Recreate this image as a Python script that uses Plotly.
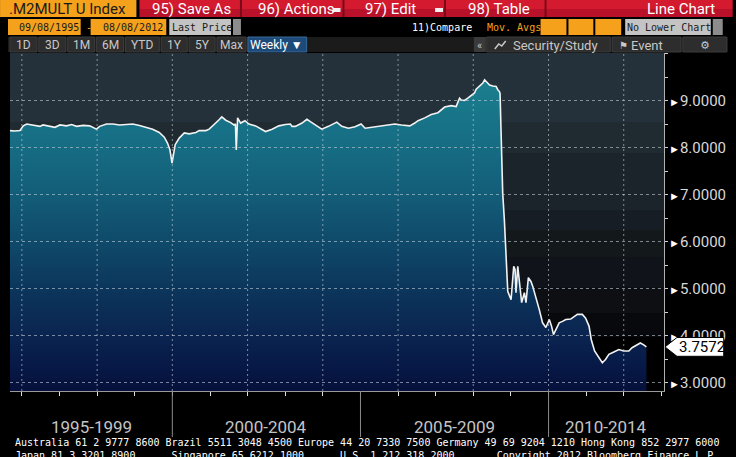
import plotly.graph_objects as go
import pandas as pd

# ---------------- data ----------------
security = ".M2MULT U Index"
start_label = "09/08/1995"
end_label = "08/08/2012"
last_price = 3.7572

dates = [
    "1995-09-08", "1995-10-20", "1995-12-14", "1996-01-15", "1996-02-17", "1996-04-17",
    "1996-06-25", "1996-07-24", "1996-09-30", "1996-11-17", "1997-01-05", "1997-03-10",
    "1997-04-28", "1997-06-15", "1997-08-18", "1997-10-21", "1997-12-25", "1998-01-26",
    "1998-04-01", "1998-06-04", "1998-08-07", "1998-10-11", "1998-12-13", "1999-02-16",
    "1999-04-21", "1999-06-24", "1999-08-27", "1999-10-15", "1999-11-16", "1999-12-09",
    "1999-12-29", "2000-01-10", "2000-01-29", "2000-03-08", "2000-04-26", "2000-06-13",
    "2000-08-17", "2000-09-18", "2000-11-22", "2000-12-24", "2001-02-10", "2001-03-30",
    "2001-04-25", "2001-06-03", "2001-07-21", "2001-08-22", "2001-09-05", "2001-09-13",
    "2001-09-26", "2001-10-25", "2001-12-06", "2002-01-14", "2002-03-20", "2002-05-22",
    "2002-06-24", "2002-08-27", "2002-10-31", "2003-01-03", "2003-02-21", "2003-03-08",
    "2003-04-10", "2003-06-13", "2003-07-31", "2003-09-02", "2003-10-20", "2003-12-22",
    "2004-02-25", "2004-05-16", "2004-07-03", "2004-09-06", "2004-11-09", "2005-01-07",
    "2005-02-15", "2005-05-22", "2005-08-26", "2005-12-01", "2006-02-03", "2006-04-25",
    "2006-06-12", "2006-07-14", "2006-09-17", "2006-11-19", "2007-01-23", "2007-03-29",
    "2007-06-01", "2007-07-19", "2007-08-04", "2007-08-21", "2007-09-06", "2007-10-08",
    "2007-11-09", "2007-12-10", "2008-01-13", "2008-01-29", "2008-03-02", "2008-04-03",
    "2008-04-20", "2008-05-15", "2008-06-07", "2008-07-09", "2008-08-10", "2008-08-26",
    "2008-09-11", "2008-09-17", "2008-10-03", "2008-10-13", "2008-10-29", "2008-11-14",
    "2008-12-01", "2009-01-02", "2009-01-28", "2009-02-10", "2009-02-19", "2009-03-08",
    "2009-03-24", "2009-04-15", "2009-05-11", "2009-05-27", "2009-06-19", "2009-07-14",
    "2009-07-31", "2009-08-31", "2009-10-03", "2009-11-04", "2009-12-06", "2010-01-08",
    "2010-01-30", "2010-02-18", "2010-03-12", "2010-04-14", "2010-05-16", "2010-06-17",
    "2010-08-04", "2010-09-06", "2010-10-08", "2010-11-25", "2010-12-27", "2011-01-29",
    "2011-02-20", "2011-03-24", "2011-04-26", "2011-06-07", "2011-07-08", "2011-08-10",
    "2011-09-27", "2011-11-14", "2012-01-01", "2012-02-19", "2012-03-22", "2012-05-09",
    "2012-06-10", "2012-07-13", "2012-08-08",
]
values = [
    8.36, 8.35, 8.36, 8.46, 8.50, 8.48,
    8.45, 8.48, 8.46, 8.43, 8.48, 8.46,
    8.49, 8.45, 8.47, 8.46, 8.39, 8.45,
    8.50, 8.50, 8.48, 8.49, 8.50, 8.47,
    8.43, 8.39, 8.32, 8.22, 8.09, 7.95,
    7.67, 7.81, 8.06, 8.20, 8.31, 8.29,
    8.32, 8.36, 8.36, 8.39, 8.48, 8.59,
    8.65, 8.58, 8.53, 8.48, 8.50, 7.95,
    8.63, 8.52, 8.57, 8.50, 8.46, 8.38,
    8.34, 8.39, 8.46, 8.49, 8.50, 8.45,
    8.45, 8.52, 8.60, 8.55, 8.48, 8.39,
    8.45, 8.54, 8.45, 8.41, 8.44, 8.50,
    8.41, 8.44, 8.48, 8.50, 8.48, 8.46,
    8.52, 8.57, 8.63, 8.70, 8.74, 8.86,
    8.89, 8.87, 8.96, 9.05, 9.01, 9.00,
    9.05, 9.10, 9.16, 9.24, 9.31, 9.37,
    9.44, 9.37, 9.33, 9.31, 9.30, 9.23,
    9.19, 9.15, 7.74, 7.03, 6.46, 5.54,
    4.94, 4.76, 5.47, 5.40, 4.91, 5.47,
    5.19, 4.70, 4.91, 4.70, 5.23, 5.15,
    5.05, 4.83, 4.55, 4.27, 4.17, 4.34,
    4.20, 4.02, 4.13, 4.27, 4.30, 4.34,
    4.35, 4.41, 4.45, 4.45, 4.37, 4.20,
    3.91, 3.67, 3.56, 3.42, 3.49, 3.60,
    3.65, 3.70, 3.67, 3.67, 3.74, 3.81,
    3.84, 3.80, 3.7572,
]

y_ticks = [3, 4, 5, 6, 7, 8, 9]
grid_years = ["1996-01-01", "1998-01-01", "2000-01-01", "2002-01-01",
              "2004-01-01", "2006-01-01", "2008-01-01", "2010-01-01", "2012-01-01"]
period_labels = ["1995-1999", "2000-2004", "2005-2009", "2010-2014"]
period_bounds = ["1995-09-08", "2000-01-01", "2005-01-01", "2010-01-01", "2013-01-26"]

footer_line1 = ("Australia 61 2 9777 8600 Brazil 5511 3048 4500 Europe 44 20 7330 7500 "
                "Germany 49 69 9204 1210 Hong Kong 852 2977 6000")
footer_line2 = ("Japan 81 3 3201 8900      Singapore 65 6212 1000      "
                "U.S. 1 212 318 2000       Copyright 2012 Bloomberg Finance L.P.")

# ---------------- layout helpers ----------------
W, H = 736, 457
L, R, T, B = 10, 667, 53, 391
X_RANGE = [period_bounds[0], period_bounds[-1]]
Y_RANGE = [2.8191, 10.0106]


def PX(p):
    return (p - L) / (R - L)


def PY(p):
    return (B - p) / (B - T)


def x_frac(d):
    t0, t1 = pd.Timestamp(X_RANGE[0]), pd.Timestamp(X_RANGE[1])
    return (pd.Timestamp(d) - t0) / (t1 - t0)


def y_frac(v):
    return (v - Y_RANGE[0]) / (Y_RANGE[1] - Y_RANGE[0])


SANS = "Roboto, Liberation Sans, sans-serif"
MONO = "DejaVu Sans Mono, Liberation Mono, monospace"
ORANGE = "#f5a11c"

shapes = []
annotations = []


def rect(x0, y0, x1, y1, color, layer="above", line=None):
    shapes.append(dict(type="rect", xref="paper", yref="paper",
                       x0=PX(x0), x1=PX(x1), y0=PY(y1), y1=PY(y0),
                       fillcolor=color, line=line or dict(width=0), layer=layer))


def text(x, y, s, size=12, color="#ffffff", anchor="left", font=SANS):
    annotations.append(dict(xref="paper", yref="paper", x=PX(x), y=PY(y),
                            text=s, showarrow=False, xanchor=anchor, yanchor="middle",
                            font=dict(family=font, size=size, color=color), borderpad=0))


# ---------------- plot background bands ----------------
bands = [(53, 122, "#24313a"), (122, 153, "#1f2a31"), (153, 210, "#1b232b"),
         (210, 230, "#161d25"), (230, 257, "#13191b"), (257, 287, "#10141a"),
         (287, 313, "#0d0f13"), (313, 337, "#08090c"), (337, 391, "#000000")]
for y0, y1, c in bands:
    rect(L, y0, R, y1, c, layer="below")

# ---------------- dashed grid (paper-referenced, drawn above the fill) ----------------
GRID = "rgba(200,210,220,0.6)"
for v in y_ticks:
    f = y_frac(v)
    shapes.append(dict(type="line", xref="paper", yref="paper", x0=0, x1=1, y0=f, y1=f,
                       line=dict(color=GRID, width=1, dash="3px,3px"), layer="above"))
for d in grid_years:
    f = x_frac(d)
    shapes.append(dict(type="line", xref="paper", yref="paper", x0=f, x1=f, y0=0, y1=1,
                       line=dict(color=GRID, width=1, dash="2px,3px"), layer="above"))

# last price tag
hp = 0.20
shapes.append(dict(type="path", xref="paper", yref="y",
                   path=(f"M {PX(668)},{last_price} L {PX(680)},{last_price + hp} "
                         f"L {PX(727)},{last_price + hp} L {PX(727)},{last_price - hp} "
                         f"L {PX(680)},{last_price - hp} Z"),
                   fillcolor="#ffffff", line=dict(color="#000000", width=1), layer="above"))
annotations.append(dict(xref="paper", yref="y", x=PX(681), y=last_price,
                        text=f"{last_price:.4f}", showarrow=False, xanchor="left",
                        yanchor="middle", borderpad=0,
                        font=dict(family=SANS, size=15, color="#000000")))

# period separators and labels
for d in period_bounds[1:-1]:
    shapes.append(dict(type="line", xref="x", yref="paper", x0=d, x1=d,
                       y0=PY(391), y1=PY(437), line=dict(color="#8a8a8a", width=1)))
for i, lab in enumerate(period_labels):
    a = pd.Timestamp(period_bounds[i])
    b = pd.Timestamp(period_bounds[i + 1])
    mid = a + (b - a) / 2
    annotations.append(dict(xref="x", yref="paper", x=mid, y=PY(427), text=lab,
                            showarrow=False, xanchor="center", yanchor="middle",
                            font=dict(family=SANS, size=17, color="#c4c4c4")))

# ---------------- header ----------------
# row 1
rect(0, 0, 137, 17, ORANGE)
text(8, 9, security, size=15, color="#1a1a1a")
rect(140, 0, 736, 9, "#d41a2e")
rect(140, 9, 736, 17, "#b9112a")
for sx in [241, 344, 446, 547]:
    rect(sx, 0, sx + 2, 17, "#7a0a18")
text(192, 9, "95) Save As", size=15, anchor="center")
text(258, 9, "96) Actions", size=15)
rect(334, 8, 342, 12, "#f0f0f0")
text(366, 9, "97) Edit", size=15)
rect(437, 8, 445, 12, "#f0f0f0")
text(469, 9, "98) Table", size=15)
text(719, 9, "Line Chart", size=15, anchor="right")

# row 2
rect(8, 19, 81, 35, ORANGE)
text(80, 27, start_label, size=10, color="#1a1a1a", anchor="right", font=MONO)
text(85, 27, "-", size=10, color=ORANGE, font=MONO)
rect(91, 19, 167, 35, ORANGE)
text(165, 27, end_label, size=10, color="#1a1a1a", anchor="right", font=MONO)
rect(170, 19, 232, 35, "#c4c4c4")
text(172, 27, "Last Price", size=10, color="#1a1a1a", font=MONO)
rect(234, 19, 242, 35, "#8c8c8c")
text(413, 27, "11)Compare", size=10, color="#ffffff", font=MONO)
text(488, 27, "Mov. Avgs", size=10, color=ORANGE, font=MONO)
for bx0, bx1 in [(543, 569), (571, 596), (598, 624)]:
    rect(bx0, 19, bx1, 35, ORANGE)
rect(628, 19, 714, 35, "#c4c4c4")
text(629, 27, "No Lower Chart", size=10, color="#1a1a1a", font=MONO)
rect(716, 19, 726, 35, "#8c8c8c")

# row 3
rect(8, 37, 731, 52, "#1b1b1b")
btn_line = dict(color="#3c3c3c", width=1)
for lab, bx0, bx1 in [("1D", 10, 37), ("3D", 39, 66), ("1M", 68, 95), ("6M", 97, 124),
                      ("YTD", 126, 160), ("1Y", 162, 188), ("5Y", 190, 216), ("Max", 218, 247)]:
    rect(bx0, 37, bx1, 52, "#2d2d2d", line=btn_line)
    text((bx0 + bx1) / 2, 45, lab, size=12, color="#c8c8c8", anchor="center")
rect(249, 37, 308, 52, "#1d4a78", line=dict(color="#3a6a9a", width=1))
text(278, 45, "Weekly ▼", size=12, color="#ffffff", anchor="center")
rect(476, 37, 488, 52, "#3a3a3a")
text(482, 45, "«", size=11, color="#c8c8c8", anchor="center")
rect(489, 37, 613, 52, "#2d2d2d", line=btn_line)
shapes.append(dict(type="path", xref="paper", yref="paper",
                   path=(f"M {PX(497)},{PY(49)} L {PX(501)},{PY(44)} L {PX(504)},{PY(46)} "
                         f"L {PX(508)},{PY(41)}"),
                   line=dict(color="#c8c8c8", width=1.5)))
text(514, 45, "Security/Study", size=13, color="#c8c8c8")
rect(615, 37, 684, 52, "#2d2d2d", line=btn_line)
text(621, 45, "⚑", size=10, color="#c8c8c8", font="DejaVu Sans")
text(633, 45, "Event", size=13, color="#c8c8c8")
rect(686, 37, 730, 52, "#2d2d2d", line=btn_line)
text(708, 45, "⚙", size=11, color="#c8c8c8", anchor="center", font="DejaVu Sans")

# ---------------- footer ----------------
text(14, 443, footer_line1.replace(" ", "\u00a0"), size=10, color="#ffffff", font=MONO)
text(14, 455, footer_line2.replace(" ", "\u00a0"), size=10, color="#ffffff", font=MONO)

# ---------------- traces ----------------
fill_stops = [(2.82, "#05103a"), (3.3, "#071846"), (4.0, "#0a2450"), (5.0, "#0c365c"),
              (6.0, "#0f4a6a"), (7.0, "#135d78"), (8.0, "#166c83"), (9.0, "#19798b"),
              (9.45, "#1c7f90")]
g0, g1 = fill_stops[0][0], fill_stops[-1][0]
colorscale = [[(v - g0) / (g1 - g0), c] for v, c in fill_stops]

fig = go.Figure()
fig.add_trace(go.Scatter(
    x=dates, y=values, mode="lines", line=dict(color="#f2f2f2", width=1.6),
    fill="tozeroy",
    fillgradient=dict(type="vertical", colorscale=colorscale, start=g0, stop=g1),
    hoverinfo="skip", showlegend=False,
))

tick_text = [f"<span style='color:#ffffff;font-size:11px'>►</span>{v:.4f}" for v in y_ticks]

fig.update_layout(
    width=W, height=H,
    margin=dict(l=L, r=W - R, t=T, b=H - B, pad=0),
    paper_bgcolor="#000000", plot_bgcolor="rgba(0,0,0,0)",
    showlegend=False, hovermode=False,
    shapes=shapes, annotations=annotations,
    xaxis=dict(type="date", range=X_RANGE, showgrid=False, zeroline=False,
               showline=True, linecolor="#9a9a9a", linewidth=1,
               ticks="outside", ticklen=4, tickcolor="#e0e0e0", tickwidth=1,
               tick0="1996-01-01", dtick="M12", showticklabels=False),
    yaxis=dict(side="right", range=Y_RANGE, showgrid=False, zeroline=False,
               showline=True, linecolor="#b0b0b0", linewidth=1,
               tickvals=y_ticks, ticktext=tick_text,
               ticks="outside", ticklen=1, tickcolor="rgba(0,0,0,0)",
               tickfont=dict(family=SANS, size=15, color="#d8d8d8"),
               minor=dict(ticks="outside", ticklen=3, tickcolor="#d0d0d0", dtick=0.5,
                          tick0=2.5, showgrid=False)),
)

fig.write_html("out.html", config={"displayModeBar": False},
               post_script="document.body.style.margin='0';")
